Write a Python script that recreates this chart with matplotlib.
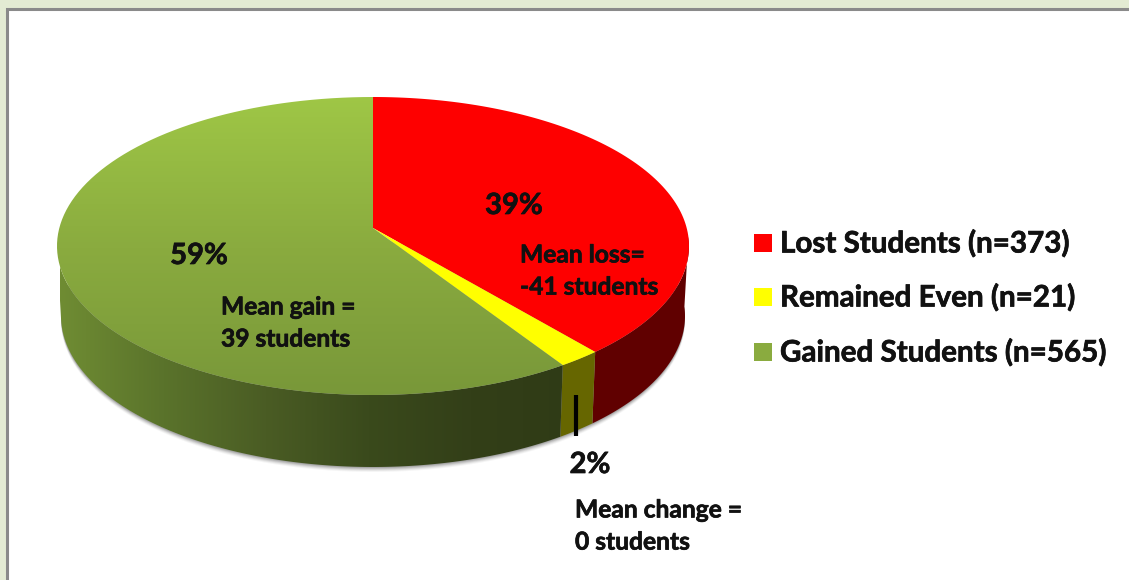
import numpy as np
import matplotlib
matplotlib.use('Agg')
import matplotlib.pyplot as plt
import matplotlib.patheffects as pe
from matplotlib.colors import LinearSegmentedColormap
from matplotlib.patches import Polygon, Rectangle

plt.rcParams['font.family'] = ['Lato', 'DejaVu Sans']

categories = ['Lost Students', 'Remained Even', 'Gained Students']
counts = [373, 21, 565]
notes = ['Mean loss=\n-41 students', 'Mean change =\n0 students', 'Mean gain =\n39 students']
top_colors = ['#fe0000', '#ffff00', '#8aab3f']
side_colors = ['#600000', '#666600', '#6f8a35']

# pie geometry, in pixels of the picture
apex = (373, 228)
top_ell = (373, 246, 316, 149)
bot_ell = (373, 316, 312, 151)


def warp(deg):
    # the pie is drawn in perspective so the angles are a bit squeezed
    return deg - 5 * np.sin(np.radians(deg / 2))


def arc(ell, a, b, n=120):
    t = np.radians(warp(np.linspace(a, b, n)))
    return np.column_stack([ell[0] + ell[2] * np.sin(t), ell[1] - ell[3] * np.cos(t)])


fig = plt.figure(figsize=(11.29, 5.8), dpi=100, facecolor='#e3ebd3')
ax = fig.add_axes([0, 0, 1, 1])
ax.set_xlim(0, 1129)
ax.set_ylim(580, 0)
ax.axis('off')

# slide panel
ax.add_patch(Rectangle((6.5, 8.5), 1130, 580, fc='white', ec='#8a8a8a', lw=2.2, zorder=0))

angles = np.concatenate([[0], np.cumsum(counts) / np.sum(counts) * 360])

# soft shadow under the side
for off, al in zip([5, 4, 3, 2, 1], [0.04, 0.06, 0.08, 0.1, 0.12]):
    shadow = arc(bot_ell, 60, 300) + [0, off]
    ax.add_patch(Polygon(shadow, fc='black', alpha=al, ec='none', zorder=1))

# sides, only the front half of the pie shows
for i in range(3):
    a = max(angles[i], 90)
    b = min(angles[i + 1], 272)
    poly = np.vstack([arc(top_ell, a, b), arc(bot_ell, a, b)[::-1]])
    if i == 2:
        cmap = LinearSegmentedColormap.from_list('side', ['#6f8c33', '#5a732b', '#4a5c24', '#3a4a1c', '#333f18', '#2f3b16'])
        im = ax.imshow(np.linspace(0, 1, 256).reshape(1, -1), cmap=cmap, aspect='auto',
                       extent=[60, 575, 480, 230], zorder=2)
        im.set_clip_path(Polygon(poly, transform=ax.transData))
    else:
        ax.add_patch(Polygon(poly, fc=side_colors[i], ec='none', zorder=2))

# top face
for i in range(3):
    poly = np.vstack([[apex], arc(top_ell, angles[i], angles[i + 1])])
    if i == 2:
        cmap = LinearSegmentedColormap.from_list('top', ['#9fc746', '#8aab3f', '#789739'])
        im = ax.imshow(np.linspace(0, 1, 256).reshape(-1, 1), cmap=cmap, aspect='auto',
                       extent=[50, 575, 400, 95], zorder=3)
        im.set_clip_path(Polygon(poly, transform=ax.transData))
    else:
        ax.add_patch(Polygon(poly, fc=top_colors[i], ec='none', zorder=3))

ax.set_xlim(0, 1129)
ax.set_ylim(580, 0)

# leader line of the small slice
ax.plot([576, 576], [395, 436], color='black', lw=3, solid_capstyle='butt', zorder=5)

# lato bold is a bit thinner than the original font
heavy = [pe.withStroke(linewidth=0.5, foreground='#111111')]

pct = ['%d%%' % round(c / sum(counts) * 100) for c in counts]
pct_pos = [(514, 206), (590, 465), (199, 256)]
note_pos = [(520, 271), (575, 526), (221, 323)]
for i in range(3):
    ax.text(pct_pos[i][0], pct_pos[i][1], pct[i], ha='center', va='center', fontsize=21,
            fontweight='bold', color='#111111', zorder=6, path_effects=heavy)
    ax.text(note_pos[i][0], note_pos[i][1], notes[i], ha='left', va='center', fontsize=17.7,
            fontweight='bold', color='#111111', linespacing=1.48, zorder=6, path_effects=heavy)

# legend
leg_y = [243, 297, 352]
for i in range(3):
    c = top_colors[i]
    ax.add_patch(Rectangle((754, leg_y[i] - 9), 18, 18, fc=c, ec='none', zorder=6))
    ax.text(780, leg_y[i], '%s (n=%d)' % (categories[i], counts[i]), ha='left', va='center',
            fontsize=21.3, fontweight='bold', color='#111111', zorder=6, path_effects=heavy)

fig.savefig('out.png', dpi=100, facecolor=fig.get_facecolor())
